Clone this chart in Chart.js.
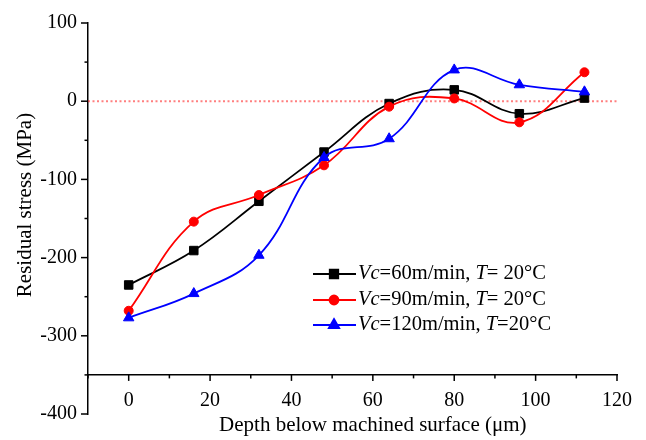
<!DOCTYPE html>
<html>
<head>
<meta charset="utf-8">
<title>Residual stress vs depth</title>
<script src="https://cdn.jsdelivr.net/npm/chart.js@4.4.0/dist/chart.umd.min.js"></script>
<style>
  html, body { margin: 0; padding: 0; background: #fff; }
  #wrap { width: 646px; height: 440px; }
</style>
</head>
<body>
<div id="wrap"><canvas id="stressChart" width="646" height="440"></canvas></div>
<script>
// ========= Data =========
const depths = [0, 16, 32, 48, 64, 80, 96, 112];
const stressVc60 = [-235, -191, -128, -65, -3, 14.5, -16, 4];
const stressVc90 = [-268, -154, -120, -82, -7, 3.5, -27, 37];
const stressVc120 = [-277, -246, -197, -72, -48, 40, 21, 12];
const seriesNames = ['Vc=60m/min, T= 20°C', 'Vc=90m/min, T= 20°C', 'Vc=120m/min, T=20°C'];
const seriesColors = ['#000000', '#ff0000', '#0000ff'];
const seriesMarkers = ['rect', 'circle', 'triangle'];
const xTickLabels = [0, 20, 40, 60, 80, 100, 120];
const yTickLabels = [100, 0, -100, -200, -300, -400];
const zeroLine = [{ x: -10, y: 0 }, { x: 120, y: 0 }];

const FONT = "'Liberation Serif', 'Times New Roman', serif";

function toPoints(vals) {
  return depths.map((d, i) => ({ x: d, y: vals[i] }));
}

function series(i, vals, radius) {
  return {
    label: seriesNames[i],
    data: toPoints(vals),
    borderColor: seriesColors[i],
    backgroundColor: seriesColors[i],
    borderWidth: 1.8,
    pointStyle: seriesMarkers[i],
    pointRadius: radius,
    pointBorderWidth: 1,
    tension: 0.4,
    order: 2 - i
  };
}

// ========= Axis ticks, titles and legend =========
const decor = {
  id: 'decor',
  afterDraw(chart) {
    const { ctx, scales: { x, y } } = chart;
    const axisY = y.getPixelForValue(-350);
    ctx.save();
    ctx.strokeStyle = '#000';
    ctx.lineWidth = 1.5;

    // tick marks: long on labelled values, short in between
    x.ticks.forEach(t => {
      const px = x.getPixelForValue(t.value);
      const len = xTickLabels.includes(t.value) ? 6 : 3.5;
      ctx.beginPath();
      ctx.moveTo(px, axisY);
      ctx.lineTo(px, axisY + len);
      ctx.stroke();
    });
    y.ticks.forEach(t => {
      const py = y.getPixelForValue(t.value);
      const len = yTickLabels.includes(t.value) ? 7 : 3.5;
      ctx.beginPath();
      ctx.moveTo(y.right, py);
      ctx.lineTo(y.right - len, py);
      ctx.stroke();
    });

    // axis titles
    ctx.fillStyle = '#000';
    ctx.font = '21px ' + FONT;
    ctx.textAlign = 'center';
    ctx.textBaseline = 'alphabetic';
    const xMid = (x.getPixelForValue(0) + x.getPixelForValue(120)) / 2;
    ctx.fillText('Depth below machined surface (μm)', xMid, 431);
    ctx.save();
    ctx.translate(31, 205);
    ctx.rotate(-Math.PI / 2);
    ctx.fillText('Residual stress (MPa)', 0, 0);
    ctx.restore();

    // legend
    const radii = [6, 4.5, 6];
    [274, 300, 325].forEach((rowY, i) => {
      ctx.strokeStyle = seriesColors[i];
      ctx.fillStyle = seriesColors[i];
      ctx.lineWidth = 1.8;
      ctx.beginPath();
      ctx.moveTo(313, rowY);
      ctx.lineTo(356, rowY);
      ctx.stroke();
      Chart.helpers.drawPoint(ctx, {
        pointStyle: seriesMarkers[i], radius: radii[i], rotation: 0, borderWidth: 1
      }, 334, rowY);

      // "Vc" and "T" are set in italics
      ctx.fillStyle = '#000';
      ctx.textAlign = 'left';
      let tx = 358;
      seriesNames[i].split(/(Vc|T)(?==)/).forEach((part, k) => {
        if (!part) return;
        ctx.font = (k % 2 ? 'italic ' : '') + '20.5px ' + FONT;
        ctx.fillText(part, tx, rowY + 4.5);
        tx += ctx.measureText(part).width;
      });
    });
    ctx.restore();
  }
};

// ========= Chart =========
const ctx = document.getElementById('stressChart').getContext('2d');
new Chart(ctx, {
  type: 'line',
  data: {
    datasets: [
      series(0, stressVc60, 6),
      series(1, stressVc90, 4.5),
      series(2, stressVc120, 6),
      {
        label: '',
        data: zeroLine,
        borderColor: 'rgba(255, 0, 0, 0.5)',
        borderWidth: 2,
        borderDash: [2, 2.5],
        pointRadius: 0,
        order: 3
      }
    ]
  },
  options: {
    responsive: false,
    animation: false,
    devicePixelRatio: 1,
    layout: { padding: { top: 18, right: 27, bottom: 26, left: 0 } },
    plugins: { legend: { display: false }, tooltip: { enabled: false } },
    scales: {
      x: {
        type: 'linear',
        min: -10,
        max: 120,
        position: { y: -350 },
        grid: { display: false, drawTicks: false },
        border: { color: '#000', width: 1.5 },
        ticks: {
          stepSize: 10,
          autoSkip: false,
          maxRotation: 0,
          padding: 14,
          color: '#000',
          font: { family: FONT, size: 20 },
          callback: v => xTickLabels.includes(v) ? String(v) : ''
        }
      },
      y: {
        type: 'linear',
        min: -400,
        max: 100,
        afterFit: s => { s.width = 88; },
        grid: { display: false, drawTicks: false },
        border: { color: '#000', width: 1.5 },
        ticks: {
          stepSize: 50,
          autoSkip: false,
          padding: 11,
          color: '#000',
          font: { family: FONT, size: 20 },
          callback: v => yTickLabels.includes(v) ? String(v) : ''
        }
      }
    }
  },
  plugins: [decor]
});
</script>
</body>
</html>
